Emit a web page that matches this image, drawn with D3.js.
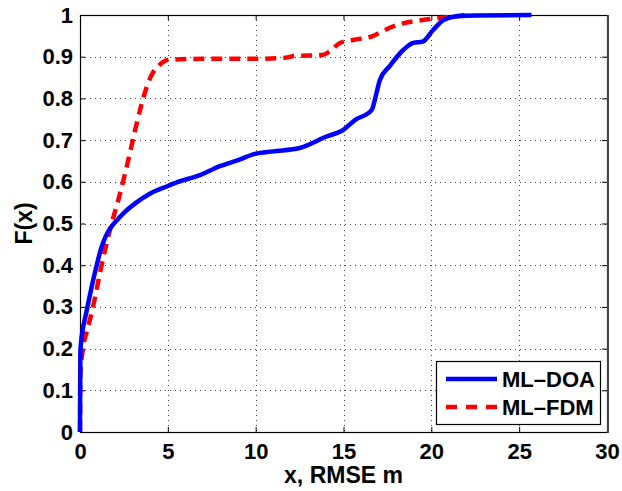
<!DOCTYPE html>
<html>
<head>
<meta charset="utf-8">
<script src="https://cdn.jsdelivr.net/npm/d3@7"></script>
<style>
  html, body { margin: 0; padding: 0; background: #fff; }
  svg { display: block; }
  text { font-family: "Liberation Sans", Arial, sans-serif; font-weight: bold; fill: #000; }
</style>
</head>
<body>
<svg id="chart" width="622" height="491"></svg>
<script>
// ---- data ----
const seriesNames = ["ML\u2013DOA", "ML\u2013FDM"];
const doaX = [0, 0.02, 0.06, 0.15, 0.3, 0.45, 0.7, 0.95, 1.2, 1.45, 1.75, 2.1, 2.56, 3.2, 4, 5, 5.4, 6.83, 8, 9, 9.96, 11, 12.5, 14, 14.97, 15.65, 16.6, 16.88, 17.07, 17.64, 18.4, 18.97, 19.5, 20.1, 20.7, 21.5, 22.5, 25.7];
const doaF = [0, 0.19, 0.215, 0.245, 0.275, 0.305, 0.355, 0.40, 0.44, 0.468, 0.49, 0.508, 0.528, 0.55, 0.572, 0.59, 0.597, 0.616, 0.638, 0.652, 0.667, 0.673, 0.681, 0.708, 0.724, 0.748, 0.772, 0.813, 0.844, 0.878, 0.916, 0.933, 0.936, 0.964, 0.988, 0.997, 0.999, 1.0];
const fdmX = [0, 0.02, 0.17, 0.45, 0.74, 1.23, 1.8, 2.14, 2.45, 2.9, 3.2, 3.5, 3.8, 4.1, 4.5, 5.0, 7, 10, 11.57, 12.3, 13.8, 14.2, 14.8, 15.55, 16.7, 17.36, 18.2, 19.5, 20.5, 21.6, 21.9];
const fdmF = [0, 0.14, 0.2, 0.25, 0.3, 0.4, 0.5, 0.55, 0.6, 0.68, 0.735, 0.785, 0.828, 0.858, 0.879, 0.892, 0.895, 0.895, 0.897, 0.902, 0.904, 0.912, 0.933, 0.94, 0.95, 0.964, 0.978, 0.988, 0.993, 0.998, 1.0];
const xTicks = [0, 5, 10, 15, 20, 25, 30];
const yTicks = [0, 0.1, 0.2, 0.3, 0.4, 0.5, 0.6, 0.7, 0.8, 0.9, 1];
const xLabel = "x, RMSE m";
const yLabel = "F(x)";

// ---- layout ----
const svg = d3.select("#chart");
const L = 80, T = 15, W = 527, H = 417;
const x = d3.scaleLinear().domain([0, 30]).range([L, L + W]);
const y = d3.scaleLinear().domain([0, 1]).range([T + H, T]);

// grid
const grid = svg.append("g").attr("stroke", "#000").attr("stroke-width", 1)
  .attr("stroke-dasharray", "1,4").attr("opacity", 0.75);
xTicks.slice(1, -1).forEach(t => grid.append("line")
  .attr("x1", Math.round(x(t)) + 0.5).attr("x2", Math.round(x(t)) + 0.5)
  .attr("y1", T).attr("y2", T + H));
yTicks.slice(1, -1).forEach(t => grid.append("line")
  .attr("y1", Math.round(y(t)) + 0.5).attr("y2", Math.round(y(t)) + 0.5)
  .attr("x1", L).attr("x2", L + W));

// axes (ticks inside, on all four sides)
const fmtY = d => (d === 0 || d === 1) ? String(d) : d.toFixed(1);
const axB = d3.axisBottom(x).tickValues(xTicks).tickSizeInner(-5).tickSizeOuter(0).tickPadding(11);
const axT = d3.axisTop(x).tickValues(xTicks).tickSizeInner(-5).tickSizeOuter(0).tickFormat("");
const axLf = d3.axisLeft(y).tickValues(yTicks).tickSizeInner(-5).tickSizeOuter(0).tickPadding(7).tickFormat(fmtY);
const axR = d3.axisRight(y).tickValues(yTicks).tickSizeInner(-5).tickSizeOuter(0).tickFormat("");

function style(g) {
  g.select(".domain").remove();
  g.selectAll("line").attr("stroke", "#000");
  g.selectAll("text").attr("font-size", 22).attr("font-family", "Liberation Sans, Arial, sans-serif")
    .attr("font-weight", "bold").attr("fill", "#000");
}
svg.append("g").attr("transform", `translate(0,${T + H})`).call(axB).call(style);
svg.append("g").attr("transform", `translate(0,${T})`).call(axT).call(style);
svg.append("g").attr("transform", `translate(${L},0)`).call(axLf).call(style);
svg.append("g").attr("transform", `translate(${L + W},0)`).call(axR).call(style);

// box
svg.append("rect").attr("x", L + 0.5).attr("y", T + 0.5).attr("width", W).attr("height", H)
  .attr("fill", "none").attr("stroke", "#000").attr("stroke-width", 1.2);
svg.append("line").attr("x1", L + W + 1).attr("x2", L + W + 1).attr("y1", T).attr("y2", T + H + 1)
  .attr("stroke", "#444").attr("stroke-width", 2);

// lines
const line = d3.line().x(d => x(d[0])).y(d => y(d[1])).curve(d3.curveMonotoneX);
const doa = doaX.map((v, i) => [v, doaF[i]]);
const fdm = fdmX.map((v, i) => [v, fdmF[i]]);

svg.append("path").datum(fdm).attr("d", line).attr("fill", "none")
  .attr("stroke", "#ff0000").attr("stroke-width", 4.5).attr("stroke-dasharray", "11,7");
svg.append("path").datum(doa).attr("d", line).attr("fill", "none")
  .attr("stroke", "#0000ff").attr("stroke-width", 4.5);

// axis labels
svg.append("text").attr("x", L + W / 2).attr("y", 483).attr("text-anchor", "middle")
  .attr("font-size", 23).text(xLabel);
svg.append("text").attr("transform", `translate(32,${T + H / 2}) rotate(-90)`)
  .attr("text-anchor", "middle").attr("font-size", 23).text(yLabel);

// legend
const lg = svg.append("g");
lg.append("rect").attr("x", 436.5).attr("y", 361.5).attr("width", 164).attr("height", 63)
  .attr("fill", "#fff").attr("stroke", "#000").attr("stroke-width", 1.2);
lg.append("line").attr("x1", 446).attr("x2", 497).attr("y1", 379).attr("y2", 379)
  .attr("stroke", "#0000ff").attr("stroke-width", 4.5);
lg.append("line").attr("x1", 446).attr("x2", 497).attr("y1", 407).attr("y2", 407)
  .attr("stroke", "#ff0000").attr("stroke-width", 4.5).attr("stroke-dasharray", "11,9");
lg.append("text").attr("x", 502).attr("y", 387).attr("font-size", 22).text(seriesNames[0]);
lg.append("text").attr("x", 502).attr("y", 415).attr("font-size", 22).text(seriesNames[1]);
</script>
</body>
</html>
